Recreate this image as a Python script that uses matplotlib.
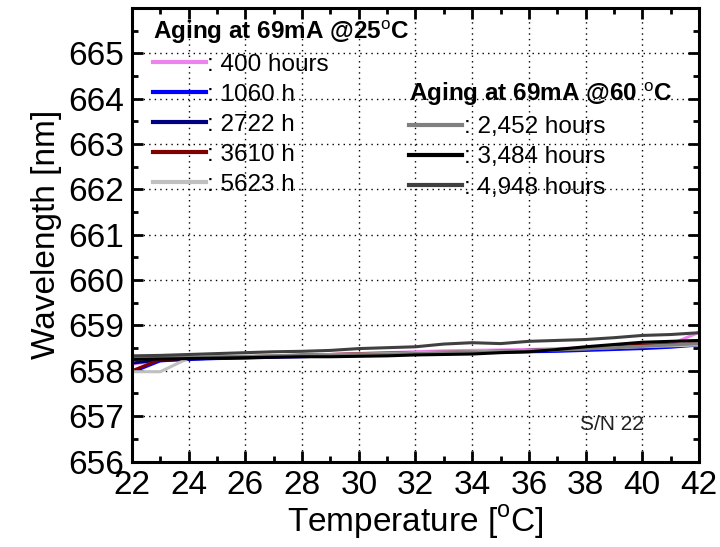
import matplotlib
matplotlib.use("Agg")
import matplotlib.pyplot as plt
import numpy as np

# =========================
# Dados
# =========================
temp = list(range(22, 43))

# Aging at 69mA @25C
h400 = [658.15, 658.22, 658.26, 658.28, 658.30, 658.32, 658.34, 658.36, 658.38, 658.40, 658.42,
        658.44, 658.45, 658.46, 658.47, 658.49, 658.51, 658.53, 658.55, 658.58, 658.85]
h1060 = [657.97, 658.22, 658.25, 658.27, 658.28, 658.30, 658.31, 658.33, 658.34, 658.35, 658.37,
         658.38, 658.40, 658.41, 658.42, 658.43, 658.45, 658.47, 658.49, 658.52, 658.57]
h2722 = [658.17, 658.24, 658.26, 658.28, 658.30, 658.31, 658.33, 658.35, 658.36, 658.38, 658.39,
         658.40, 658.42, 658.43, 658.45, 658.47, 658.49, 658.51, 658.53, 658.55, 658.58]
h3610 = [658.00, 658.25, 658.27, 658.29, 658.31, 658.33, 658.35, 658.36, 658.38, 658.39, 658.40,
         658.41, 658.42, 658.43, 658.45, 658.47, 658.50, 658.53, 658.57, 658.58, 658.60]
h5623 = [657.98, 657.98, 658.28, 658.30, 658.31, 658.33, 658.34, 658.36, 658.37, 658.38, 658.40,
         658.41, 658.42, 658.43, 658.45, 658.47, 658.49, 658.51, 658.53, 658.55, 658.57]

# Aging at 69mA @60C
h2452 = [658.28, 658.29, 658.30, 658.31, 658.32, 658.33, 658.34, 658.35, 658.36, 658.37, 658.38,
         658.40, 658.41, 658.42, 658.44, 658.46, 658.48, 658.51, 658.54, 658.57, 658.60]
h3484 = [658.25, 658.26, 658.27, 658.28, 658.29, 658.30, 658.31, 658.31, 658.32, 658.33, 658.35,
         658.36, 658.37, 658.40, 658.42, 658.47, 658.53, 658.58, 658.63, 658.65, 658.67]
h4948 = [658.33, 658.34, 658.36, 658.38, 658.40, 658.42, 658.43, 658.45, 658.49, 658.51, 658.53,
         658.59, 658.62, 658.60, 658.65, 658.67, 658.69, 658.73, 658.78, 658.80, 658.84]

series25 = [(h400, ": 400 hours", "#ee82ee"),
            (h1060, ": 1060 h", "#0000ff"),
            (h2722, ": 2722 h", "#000080"),
            (h3610, ": 3610 h", "#800000"),
            (h5623, ": 5623 h", "#c0c0c0")]
series60 = [(h2452, ": 2,452 hours", "#808080"),
            (h3484, ": 3,484 hours", "#000000"),
            (h4948, ": 4,948 hours", "#404040")]

# =========================
# Figura
# =========================
plt.rcParams["font.family"] = ["Liberation Sans", "DejaVu Sans"]
plt.rcParams["mathtext.fontset"] = "custom"
plt.rcParams["mathtext.rm"] = "Liberation Sans"
plt.rcParams["mathtext.bf"] = "Liberation Sans:bold"

fig = plt.figure(figsize=(7.2, 5.47), dpi=100)
ax = fig.add_axes([0.1833, 0.1563, 0.7875, 0.829])

h25, h60 = [], []
for y, lab, c in series25:
    l, = ax.plot(temp, y, color=c, lw=2.2, label=lab)
    h25.append(l)
for y, lab, c in series60:
    l, = ax.plot(temp, y, color=c, lw=2.2, label=lab)
    h60.append(l)

ax.set_xlim(22, 42)
ax.set_ylim(656, 666)
ax.set_xticks(range(22, 43, 2))
ax.set_xticks(range(22, 43, 1), minor=True)
ax.set_yticks(range(656, 666))
ax.set_yticks(np.arange(656, 666.01, 0.5), minor=True)
ax.grid(True, which="major", color="black", linestyle=(0, (1, 3)), linewidth=1)

for s in ax.spines.values():
    s.set_linewidth(2.2)
ax.tick_params(which="both", direction="in", top=True, right=True, width=2)
ax.tick_params(which="major", length=8, labelsize=24, pad=6)
ax.tick_params(which="minor", length=4)

ax.set_xlabel(r"Temperature [$^{\mathrm{o}}$C]", fontsize=24, labelpad=2)
ax.set_ylabel("Wavelength [nm]", fontsize=24, labelpad=4)

leg_kw = dict(bbox_transform=fig.transFigure, frameon=False, fontsize=17.5,
              handlelength=2.2, handletextpad=0.05, labelspacing=0.33,
              borderpad=0.0, alignment="left", loc="upper left")
leg1 = ax.legend(handles=h25, bbox_to_anchor=(0.195, 0.99),
                 title=r"Aging at 69mA @25$^{\mathrm{o}}$C",
                 title_fontproperties={"weight": "bold", "size": 17.5}, **leg_kw)
for l in leg1.get_lines():
    l.set_linewidth(3)
ax.add_artist(leg1)
leg2 = ax.legend(handles=h60, bbox_to_anchor=(0.551, 0.875),
                 title=r"Aging at 69mA @60 $^{\mathrm{o}}$C",
                 title_fontproperties={"weight": "bold", "size": 17.5}, **leg_kw)
for l in leg2.get_lines():
    l.set_linewidth(3)

ax.text(0.79, 0.07, "S/N 22", transform=ax.transAxes, fontsize=15, color="#222222")

fig.savefig("out.png", dpi=100)
